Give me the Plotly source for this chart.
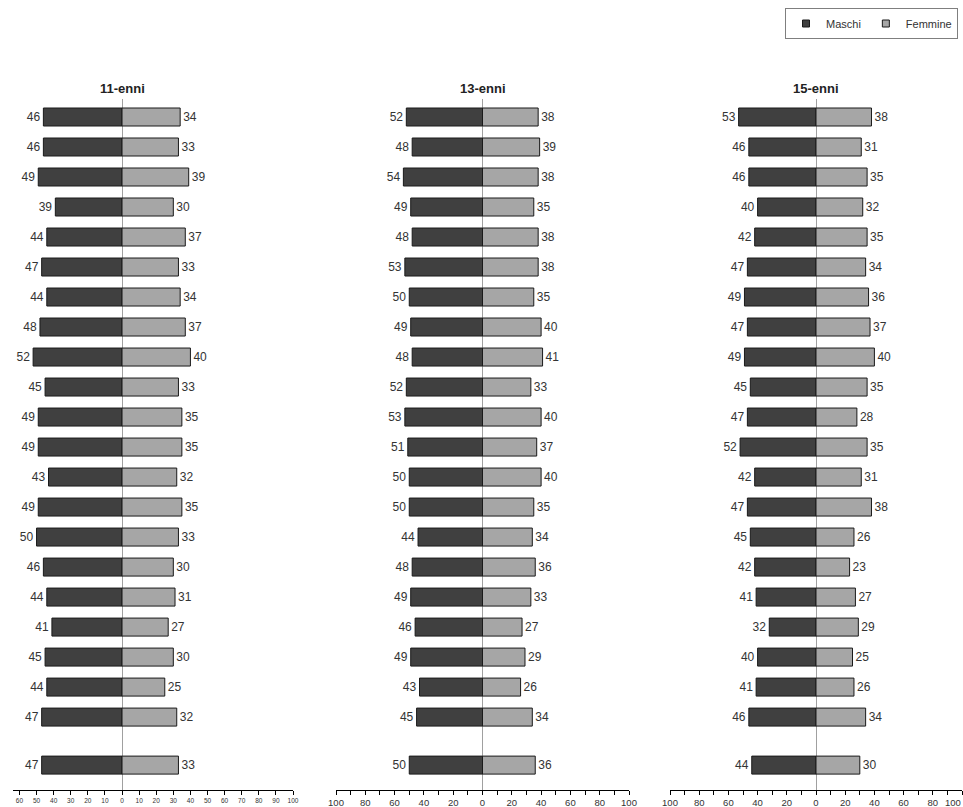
import plotly.graph_objects as go

# Percentages by age group: boys (Maschi) and girls (Femmine), 22 rows each,
# the last row being the overall figure shown apart from the others.
maschi_11 = [46, 46, 49, 39, 44, 47, 44, 48, 52, 45, 49, 49, 43, 49, 50, 46, 44, 41, 45, 44, 47, 47]
femmine_11 = [34, 33, 39, 30, 37, 33, 34, 37, 40, 33, 35, 35, 32, 35, 33, 30, 31, 27, 30, 25, 32, 33]

maschi_13 = [52, 48, 54, 49, 48, 53, 50, 49, 48, 52, 53, 51, 50, 50, 44, 48, 49, 46, 49, 43, 45, 50]
femmine_13 = [38, 39, 38, 35, 38, 38, 35, 40, 41, 33, 40, 37, 40, 35, 34, 36, 33, 27, 29, 26, 34, 36]

maschi_15 = [53, 46, 46, 40, 42, 47, 49, 47, 49, 45, 47, 52, 42, 47, 45, 42, 41, 32, 40, 41, 46, 44]
femmine_15 = [38, 31, 35, 32, 35, 34, 36, 37, 40, 35, 28, 35, 31, 38, 26, 23, 27, 29, 25, 26, 34, 30]

titles = ["11-enni", "13-enni", "15-enni"]
series_names = ["Maschi", "Femmine"]

W, H = 963, 807
FONT = "Liberation Sans, Arial, sans-serif"
DARK = "#404040"
LIGHT = "#a6a6a6"
EDGE = "#1a1a1a"
TEXT = "#333333"

# Row positions: regular spacing, the summary row pushed down a little
n = len(maschi_11)
rows = list(range(n - 1)) + [n - 1 + 0.6]

panels = [
    (maschi_11, femmine_11),
    (maschi_13, femmine_13),
    (maschi_15, femmine_15),
]

# Horizontal placement of each panel in pixels, and its value range
x_px = [(12.6, 293.0), (336.0, 629.0), (670.0, 962.0)]
x_ranges = [[-64, 100], [-100, 100], [-100, 100]]

y_dom = [17 / H, 708 / H]
y_range = [22.43, -0.6]

fig = go.Figure()

for i, (m, f) in enumerate(panels):
    ax = "" if i == 0 else str(i + 1)
    fig.add_trace(go.Bar(
        y=rows, x=[-v for v in m], orientation="h",
        name=series_names[0], showlegend=False,
        marker=dict(color=DARK, line=dict(color=EDGE, width=1)),
        width=0.6,
        text=[str(v) for v in m], textposition="outside",
        textfont=dict(family=FONT, size=12, color=TEXT),
        cliponaxis=False, constraintext="none",
        xaxis="x" + ax, yaxis="y" + ax,
        hovertemplate="%{text}<extra>Maschi</extra>",
    ))
    fig.add_trace(go.Bar(
        y=rows, x=f, orientation="h",
        name=series_names[1], showlegend=False,
        marker=dict(color=LIGHT, line=dict(color=EDGE, width=1)),
        width=0.6,
        text=[str(v) for v in f], textposition="outside",
        textfont=dict(family=FONT, size=12, color=TEXT),
        cliponaxis=False, constraintext="none",
        xaxis="x" + ax, yaxis="y" + ax,
        hovertemplate="%{x}<extra>Femmine</extra>",
    ))

# Legend entries drawn as small square swatches
for name, col in zip(series_names, [DARK, LIGHT]):
    fig.add_trace(go.Scatter(
        x=[None], y=[None], mode="markers", name=name,
        marker=dict(symbol="square", size=7, color=col, line=dict(color=EDGE, width=1)),
        showlegend=True, hoverinfo="skip",
    ))

layout_axes = {}
for i in range(3):
    ax = "" if i == 0 else str(i + 1)
    lo, hi = x_ranges[i]
    if i == 0:
        tv = list(range(-60, 101, 10))
        tt = [str(abs(v)) for v in tv]
        tsize = 6.5
    else:
        tv = list(range(-100, 101, 10))
        tt = [str(abs(v)) if v % 20 == 0 else "" for v in tv]
        tsize = 9.5
    layout_axes["xaxis" + ax] = dict(
        domain=[x_px[i][0] / W, x_px[i][1] / W],
        range=[lo, hi], anchor="y" + ax,
        showgrid=False, zeroline=True, zerolinecolor="#a0a0a0", zerolinewidth=1,
        showline=True, linecolor="#000000", linewidth=1,
        ticks="outside", ticklen=4, tickcolor="#000000", tickwidth=1,
        tickvals=tv, ticktext=tt,
        tickfont=dict(family=FONT, size=tsize, color=TEXT),
        fixedrange=True, automargin=False,
    )
    layout_axes["yaxis" + ax] = dict(
        domain=y_dom, range=y_range, anchor="x" + ax,
        showgrid=False, zeroline=False, showline=False,
        showticklabels=False, ticks="", fixedrange=True, automargin=False,
    )

fig.update_layout(**layout_axes)

annotations = []
for i, t in enumerate(titles):
    ax = "" if i == 0 else str(i + 1)
    annotations.append(dict(
        text="<b>" + t + "</b>", x=0, xref="x" + ax,
        y=(H - 88) / H, yref="paper", showarrow=False,
        xanchor="center", yanchor="middle",
        font=dict(family=FONT, size=13, color="#222222"),
    ))

# The last tick label of the right panel would run past the page edge;
# draw it explicitly, right-aligned to the edge.
annotations.append(dict(
    text="100", x=1.0, xref="paper", y=y_dom[0], yref="paper",
    yshift=-5, showarrow=False, xanchor="right", yanchor="top",
    font=dict(family=FONT, size=9.5, color=TEXT),
))

fig.update_layout(
    width=W, height=H,
    margin=dict(l=0, r=0, t=0, b=0, pad=0, autoexpand=False),
    paper_bgcolor="white", plot_bgcolor="white",
    barmode="overlay",
    annotations=annotations,
    showlegend=True,
    legend=dict(
        orientation="h", x=958 / W, xanchor="right", y=(H - 8) / H, yanchor="top",
        bordercolor="#7f7f7f", borderwidth=1, bgcolor="white",
        font=dict(family=FONT, size=11, color=TEXT),
        itemwidth=30, traceorder="normal",
    ),
    font=dict(family=FONT, color=TEXT),
)

fig.write_html("out.html")
